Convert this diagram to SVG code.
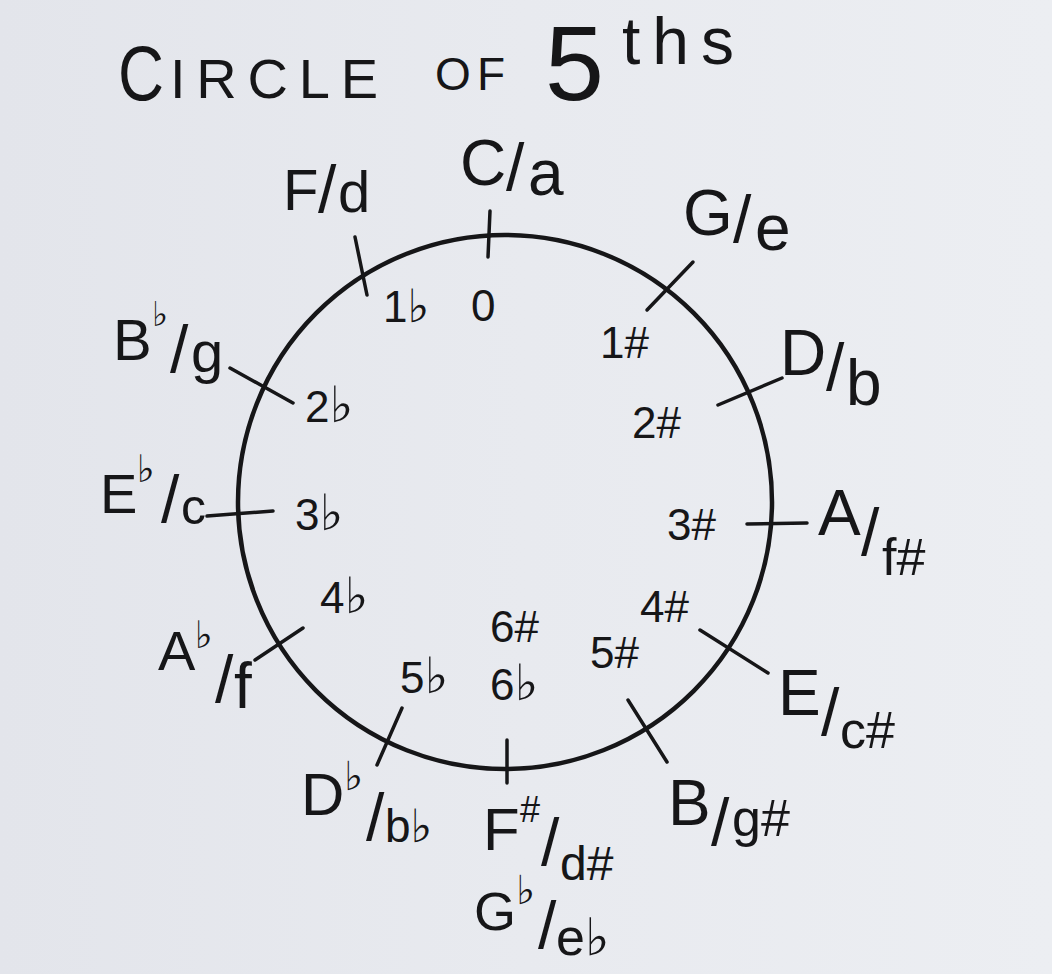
<svg xmlns="http://www.w3.org/2000/svg" width="1052" height="974" viewBox="0 0 1052 974">
<defs>
<linearGradient id="bg" x1="0" y1="0" x2="1" y2="0">
<stop offset="0" stop-color="#e3e5eb"/>
<stop offset="0.5" stop-color="#e8eaef"/>
<stop offset="1" stop-color="#eceef2"/>
</linearGradient>
<style>
text{font-family:"Liberation Sans","DejaVu Sans",sans-serif;fill:#161618}
.lab{font-size:64px}
.sl{font-size:66px}
.in{font-size:44px}
.fl{font-family:"DejaVu Sans",sans-serif}
.tick{stroke:#161618;stroke-width:3.5;stroke-linecap:round;fill:none}
.ring{stroke:#161618;stroke-width:4.5;fill:none}
</style>
</defs>
<rect width="1052" height="974" fill="url(#bg)"/>

<g id="title">
<text x="118" y="100" font-size="78" textLength="46" lengthAdjust="spacingAndGlyphs">C</text>
<text x="170" y="98" font-size="56" textLength="208" lengthAdjust="spacing">IRCLE</text>
<text x="435" y="90" font-size="46" textLength="70" lengthAdjust="spacing">OF</text>
<text x="545" y="100" font-size="106">5</text>
<text x="622" y="64" font-size="66" textLength="112" lengthAdjust="spacing">ths</text>
</g>

<g id="connectors">
<circle class="ring" cx="505" cy="502" r="267"/>
</g>

<g id="node-C">
<line class="tick" x1="490" y1="211" x2="488" y2="257"/>
<text class="lab"><tspan x="460" y="185">C</tspan><tspan class="sl" x="506" y="190">/</tspan><tspan x="528" y="195">a</tspan></text>
<text class="in" x="471" y="321">0</text>
</g>

<g id="node-G">
<line class="tick" x1="647" y1="310" x2="693" y2="262"/>
<text class="lab"><tspan x="683" y="235">G</tspan><tspan class="sl" x="733" y="242">/</tspan><tspan x="755" y="250">e</tspan></text>
<text class="in" x="600" y="358">1#</text>
</g>

<g id="node-D">
<line class="tick" x1="718" y1="405" x2="782" y2="378"/>
<text class="lab"><tspan x="780" y="375">D</tspan><tspan class="sl" x="826" y="390">/</tspan><tspan x="846" y="405">b</tspan></text>
<text class="in" x="632" y="438">2#</text>
</g>

<g id="node-A">
<line class="tick" x1="747" y1="524" x2="807" y2="523"/>
<text class="lab"><tspan x="818" y="535">A</tspan><tspan class="sl" x="861" y="555">/</tspan><tspan font-size="52" x="882" y="575">f#</tspan></text>
<text class="in" x="667" y="540">3#</text>
</g>

<g id="node-E">
<line class="tick" x1="700" y1="630" x2="768" y2="673"/>
<text class="lab"><tspan x="778" y="715">E</tspan><tspan class="sl" x="821" y="735">/</tspan><tspan font-size="52" x="840" y="748">c#</tspan></text>
<text class="in" x="640" y="622">4#</text>
</g>

<g id="node-B">
<line class="tick" x1="628" y1="700" x2="667" y2="762"/>
<text class="lab"><tspan x="668" y="825">B</tspan><tspan class="sl" x="711" y="845">/</tspan><tspan font-size="52" x="732" y="836">g#</tspan></text>
<text class="in" x="590" y="668">5#</text>
</g>

<g id="node-Fsharp">
<line class="tick" x1="507" y1="740" x2="507" y2="783"/>
<text class="lab"><tspan font-size="60" x="483" y="850">F</tspan><tspan font-size="36" x="520" y="822">#</tspan><tspan class="sl" font-size="60" x="541" y="865">/</tspan><tspan font-size="48" x="560" y="880">d#</tspan></text>
<text class="lab"><tspan font-size="54" x="474" y="930">G</tspan><tspan class="fl" font-size="40" x="516" y="904">♭</tspan><tspan class="sl" font-size="60" x="538" y="948">/</tspan><tspan font-size="52" x="556" y="955">e</tspan><tspan class="fl" font-size="52">♭</tspan></text>
<text class="in" x="490" y="642">6#</text>
<text class="in" x="490" y="700">6<tspan class="fl" font-size="50">♭</tspan></text>
</g>

<g id="node-Db">
<line class="tick" x1="402" y1="708" x2="377" y2="765"/>
<text class="lab"><tspan font-size="60" x="301" y="815">D</tspan><tspan class="fl" font-size="40" x="344" y="790">♭</tspan><tspan class="sl" font-size="64" x="366" y="840">/</tspan><tspan font-size="46" x="385" y="842">b</tspan><tspan class="fl" font-size="46">♭</tspan></text>
<text class="in" x="400" y="693">5<tspan class="fl" font-size="50">♭</tspan></text>
</g>

<g id="node-Ab">
<line class="tick" x1="255" y1="660" x2="303" y2="628"/>
<text class="lab"><tspan font-size="56" x="158" y="670">A</tspan><tspan class="fl" font-size="38" x="195" y="648">♭</tspan><tspan class="sl" x="215" y="702">/</tspan><tspan x="234" y="708">f</tspan></text>
<text class="in" x="320" y="613">4<tspan class="fl" font-size="50">♭</tspan></text>
</g>

<g id="node-Eb">
<line class="tick" x1="207" y1="516" x2="273" y2="511"/>
<text class="lab"><tspan font-size="56" x="100" y="513">E</tspan><tspan class="fl" font-size="38" x="137" y="482">♭</tspan><tspan class="sl" font-size="56" x="161" y="522">/</tspan><tspan font-size="50" x="181" y="524">c</tspan></text>
<text class="in" x="295" y="530">3<tspan class="fl" font-size="50">♭</tspan></text>
</g>

<g id="node-Bb">
<line class="tick" x1="230" y1="368" x2="293" y2="403"/>
<text class="lab"><tspan font-size="58" x="113" y="360">B</tspan><tspan class="fl" font-size="34" x="152" y="326">♭</tspan><tspan class="sl" font-size="70" x="170" y="372">/</tspan><tspan font-size="58" x="191" y="372">g</tspan></text>
<text class="in" x="305" y="422">2<tspan class="fl" font-size="50">♭</tspan></text>
</g>

<g id="node-F">
<line class="tick" x1="355" y1="237" x2="367" y2="295"/>
<text class="lab"><tspan font-size="58" x="283" y="210">F</tspan><tspan class="sl" font-size="58" x="318" y="212">/</tspan><tspan font-size="58" x="338" y="212">d</tspan></text>
<text class="in" font-size="40" x="383" y="322">1<tspan class="fl" font-size="46">♭</tspan></text>
</g>
</svg>
